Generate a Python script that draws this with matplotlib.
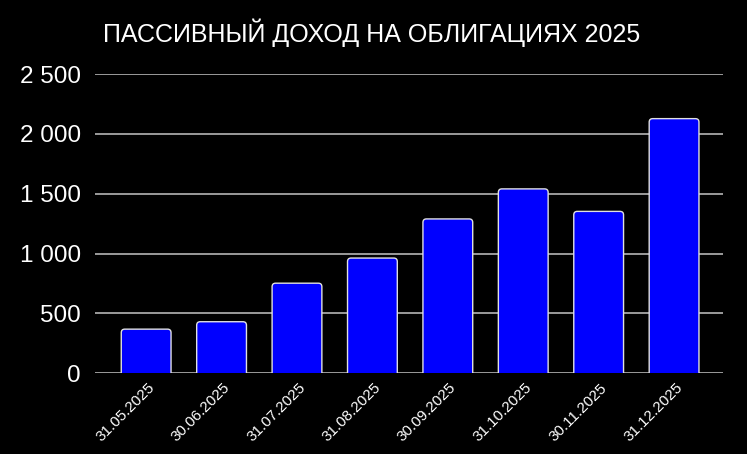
import matplotlib.pyplot as plt
import matplotlib.transforms as mtransforms
from matplotlib.ticker import FuncFormatter
from matplotlib.patches import FancyBboxPatch

# data
dates = ["31.05.2025", "30.06.2025", "31.07.2025", "31.08.2025",
         "30.09.2025", "31.10.2025", "30.11.2025", "31.12.2025"]
income = [368, 430, 752, 962, 1289, 1540, 1352, 2127]
yticks = [0, 500, 1000, 1500, 2000, 2500]
title = "ПАССИВНЫЙ ДОХОД НА ОБЛИГАЦИЯХ 2025"

fig = plt.figure(figsize=(7.47, 4.54), dpi=100, facecolor="black")
ax = fig.add_axes([0.127, 0.178, 0.841, 0.659])
ax.set_facecolor("black")

ax.set_ylim(0, 2500)
ax.set_xlim(-0.68, 7.65)

x = list(range(len(dates)))
bars = ax.bar(x, income, width=0.66, color="#0000ff", edgecolor="#e0e0e0",
              linewidth=1.0, zorder=3)

# swap plain bars for slightly rounded ones (top corners only visible)
fig.canvas.draw()
bb = ax.get_window_extent()
px_x = bb.width / (7.65 + 0.68)
px_y = bb.height / 2500
for r in bars:
    r.set_visible(False)
    p = FancyBboxPatch((r.get_x(), -40), r.get_width(), r.get_height() + 40,
                       boxstyle="round,pad=0,rounding_size=%f" % (3.5 / px_x),
                       mutation_aspect=px_x / px_y,
                       facecolor="#0000ff", edgecolor="#e0e0e0", linewidth=1.0,
                       zorder=3)
    ax.add_patch(p)

ax.set_yticks(yticks)
ax.yaxis.set_major_formatter(FuncFormatter(lambda v, p: "{:,}".format(int(v)).replace(",", " ")))
ax.grid(axis="y", color="#c4c4c4", linewidth=1.1, zorder=0)
ax.set_axisbelow(True)

for s in ax.spines.values():
    s.set_visible(False)
ax.tick_params(axis="both", length=0, colors="white")
ax.tick_params(axis="y", pad=10)

for lab in ax.get_yticklabels():
    lab.set_fontfamily("Liberation Sans")
    lab.set_fontsize(17.5)

ax.set_xticks(x)
ax.set_xticklabels(dates, rotation=45, ha="right", va="center",
                   rotation_mode="anchor", fontsize=11, color="white",
                   family="Liberation Sans")
ax.tick_params(axis="x", pad=9)
shift = mtransforms.ScaledTranslation(6 / 100, 0, fig.dpi_scale_trans)
for lab in ax.get_xticklabels():
    lab.set_transform(lab.get_transform() + shift)

fig.text(0.497, 0.927, title, color="white", fontsize=18, ha="center",
         va="center", family="Liberation Sans")

fig.savefig("out.png", dpi=100, facecolor="black")
